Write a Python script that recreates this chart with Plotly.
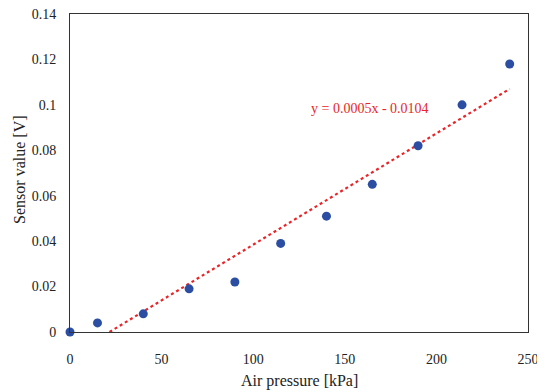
import numpy as np
import plotly.graph_objects as go

pressure = [0, 15, 40, 65, 90, 115, 140, 165, 190, 214, 240]
sensor = [0.0, 0.004, 0.008, 0.019, 0.022, 0.039, 0.051, 0.065, 0.082, 0.100, 0.118]
x_ticks = [0, 50, 100, 150, 200, 250]
y_ticks = [0, 0.02, 0.04, 0.06, 0.08, 0.1, 0.12, 0.14]
y_tick_labels = ["0", "0.02", "0.04", "0.06", "0.08", "0.1", "0.12", "0.14"]
eq_text = "y = 0.0005x - 0.0104"
x_title = "Air pressure [kPa]"
y_title = "Sensor value [V]"

m, b = np.polyfit(pressure, sensor, 1)
x0 = -b / m
x1 = max(pressure)
fit_x = [x0, x1]
fit_y = [m * x0 + b, m * x1 + b]

font = "Liberation Serif, Times New Roman, serif"

fig = go.Figure()
fig.add_trace(go.Scatter(x=fit_x, y=fit_y, mode="lines",
                         line=dict(color="#E8262A", width=2.2, dash="dot"),
                         showlegend=False))
fig.add_trace(go.Scatter(x=pressure, y=sensor, mode="markers",
                         marker=dict(color="#2B4EA2", size=9),
                         showlegend=False, cliponaxis=False))
fig.add_annotation(x=164, y=0.0984, text=eq_text, showarrow=False,
                   font=dict(family=font, size=14, color="#E8262A"))
fig.add_annotation(x=0.5, y=-0.155, xref="paper", yref="paper", text=x_title,
                   showarrow=False, yanchor="middle", xanchor="center",
                   font=dict(family=font, size=16, color="#222"))
fig.add_annotation(x=-0.109, y=0.51, xref="paper", yref="paper", text=y_title,
                   showarrow=False, yanchor="middle", xanchor="center", textangle=-90,
                   font=dict(family=font, size=16, color="#222"))
fig.update_layout(
    width=537, height=384,
    margin=dict(l=62, r=17, t=6, b=60, autoexpand=False),
    paper_bgcolor="white", plot_bgcolor="white",
    font=dict(family=font, size=14, color="#222"),
    xaxis=dict(range=[0, 250], tickvals=x_ticks, showgrid=False, zeroline=False,
               showline=True, linecolor="#333", linewidth=1, mirror=True,
               ticks="outside", ticklen=14, tickcolor="rgba(0,0,0,0)",
               ticklabeloverflow="allow", automargin=False),
    yaxis=dict(range=[0, 0.14], tickvals=y_ticks, ticktext=y_tick_labels,
               showgrid=False, zeroline=False,
               showline=True, linecolor="#333", linewidth=1, mirror=True,
               ticks="outside", ticklen=10, tickcolor="rgba(0,0,0,0)",
               ticklabeloverflow="allow", automargin=False),
)
fig.write_html("out.html")
